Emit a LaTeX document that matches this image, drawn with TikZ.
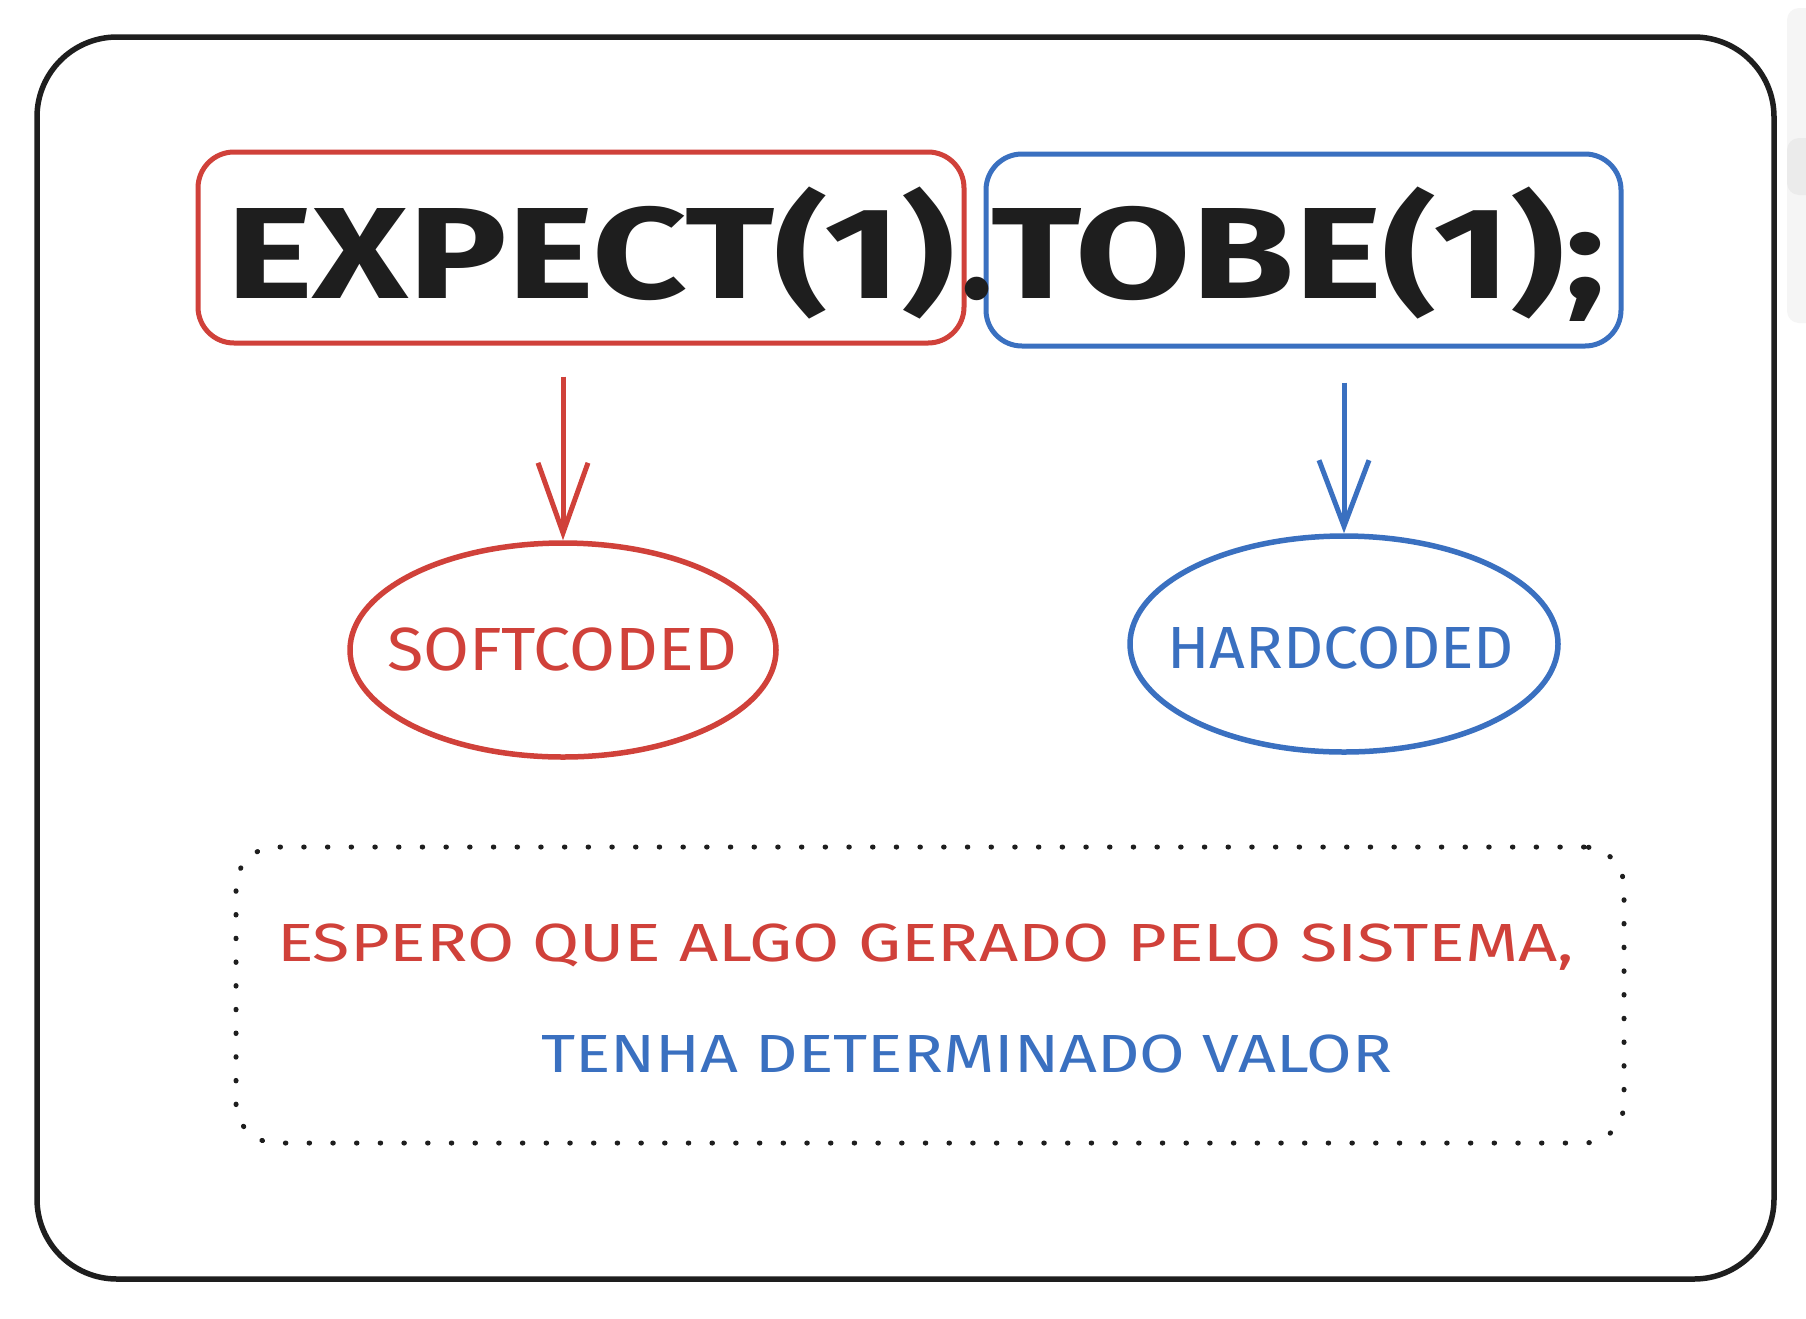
\documentclass[tikz,border=0pt]{standalone}
\usepackage{fontspec}
\setmainfont{Fira Sans}
\usetikzlibrary{arrows.meta,shapes.geometric}
\definecolor{inkred}{HTML}{D0413A}
\definecolor{inkblue}{HTML}{3A70C0}
\definecolor{ink}{HTML}{1E1E1E}
\newcommand{\fitcaps}[3]{\resizebox{#1}{#2}{\smash{#3}\rule{0pt}{\fontcharht\font`E}}}
\tikzset{
  frame/.style={draw=ink, line width=5.5pt, rounded corners=80pt},
  redbox/.style={draw=inkred, line width=5pt, rounded corners=36pt, inner sep=0pt},
  bluebox/.style={draw=inkblue, line width=5pt, rounded corners=36pt, inner sep=0pt},
  redell/.style={ellipse, draw=inkred, line width=5.5pt, inner sep=0pt},
  blueell/.style={ellipse, draw=inkblue, line width=5.5pt, inner sep=0pt},
  redarrow/.style={draw=inkred, line width=5pt, -{Straight Barb[length=70pt,width=50pt]}},
  bluearrow/.style={draw=inkblue, line width=5pt, -{Straight Barb[length=66pt,width=50pt]}},
  dotbox/.style={draw=ink, line width=5pt, dash pattern=on 0.5pt off 23.2pt, line cap=round, rounded corners=40pt, inner sep=0pt},
  label/.style={inner sep=0pt, outer sep=0pt},
}
\begin{document}
\begin{tikzpicture}[x=1pt,y=-1pt]
\useasboundingbox[fill=white] (0,0) rectangle (1806,1318);
% faint side panel
\fill[fill=black!4, rounded corners=12pt] (1787,8) rectangle (1840,323);
\fill[fill=black!8, rounded corners=12pt] (1787,138) rectangle (1840,195);
% outer frame
\draw[frame] (37,37) rectangle (1774,1279);
% boxes
\node[redbox, minimum width=766pt, minimum height=191pt] (expbox) at (581,247.5) {};
\node[bluebox, minimum width=635pt, minimum height=192pt] (tobebox) at (1303.5,250) {};
% big code text
\node[label, anchor=base west, text=ink] (exptext) at (226,298) {\bfseries\fontsize{130}{130}\selectfont\fitcaps{729pt}{90pt}{EXPECT(1)}};
\node[label, anchor=base, text=ink] (dottext) at (977,298) {\bfseries\fontsize{130}{130}\selectfont .};
\node[label, anchor=base west, text=ink] (tobetext) at (991,298) {\bfseries\fontsize{130}{130}\selectfont\fitcaps{614pt}{90pt}{TOBE(1);}};
% ellipses
\node[redell, minimum width=426pt, minimum height=214pt] (softell) at (563,650) {};
\node[blueell, minimum width=428pt, minimum height=216pt] (hardell) at (1344,644) {};
\node[label, anchor=base west, text=inkred] (softtext) at (387,670) {\fontsize{60}{60}\selectfont\fitcaps{350pt}{42pt}{SOFTCODED}};
\node[label, anchor=base west, text=inkblue] (hardtext) at (1167,668) {\fontsize{60}{60}\selectfont\fitcaps{347pt}{41pt}{HARDCODED}};
% arrows
\draw[redarrow, shorten <=31pt] (expbox.south -| softell.north) -- (softell.north);
\draw[bluearrow, shorten <=34pt] (tobebox.south -| hardell.north) -- (hardell.north);
% dotted box
\node[dotbox, minimum width=1388pt, minimum height=296pt] (notebox) at (930,995) {};
\node[label, anchor=base west, text=inkred] (line1) at (277,961) {\fontsize{54}{54}\selectfont\fitcaps{1297pt}{37pt}{ESPERO QUE ALGO GERADO PELO SISTEMA,}};
\node[label, anchor=base west, text=inkblue] (line2) at (541,1072) {\fontsize{54}{54}\selectfont\fitcaps{851pt}{37pt}{TENHA DETERMINADO VALOR}};
\end{tikzpicture}
\end{document}
